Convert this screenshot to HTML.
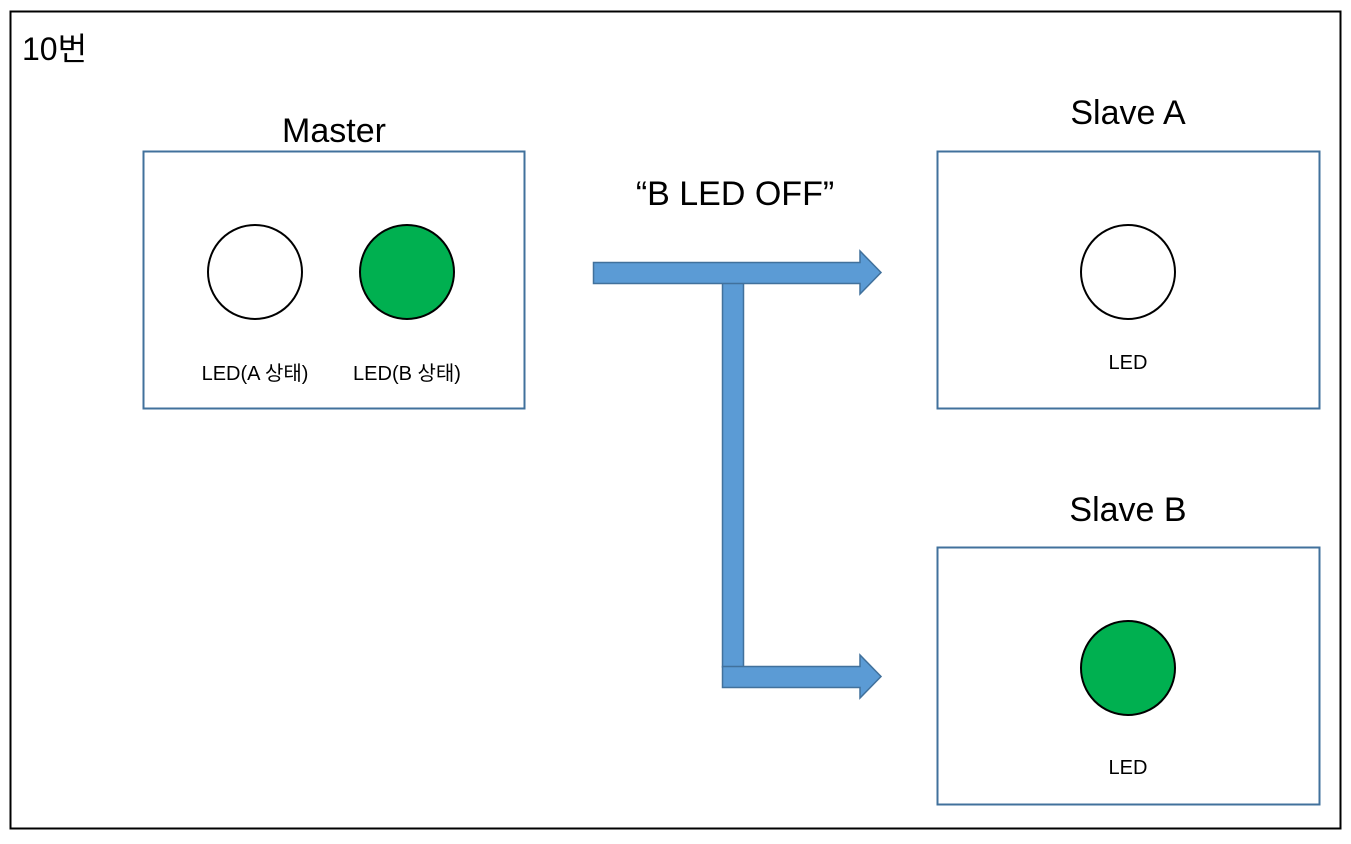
<!DOCTYPE html>
<html><head><meta charset="utf-8"><style>
body{margin:0;background:#fff;}
svg text{font-family:"Liberation Sans","Noto Sans CJK KR",sans-serif;fill:#000;}
</style></head><body>
<svg width="1351" height="839" viewBox="0 0 1351 839" xmlns="http://www.w3.org/2000/svg">
<rect x="10.5" y="11.5" width="1330" height="817" fill="#fff" stroke="#000" stroke-width="2"/>
<text x="22" y="60" font-size="32">10번</text>
<text x="334" y="142" font-size="34" text-anchor="middle">Master</text>
<text x="1128" y="124" font-size="34" text-anchor="middle">Slave A</text>
<text x="1128" y="521" font-size="34" text-anchor="middle">Slave B</text>
<text x="735" y="205" font-size="34" text-anchor="middle">“B LED OFF”</text>
<rect x="143.5" y="151.5" width="381" height="257" fill="#fff" stroke="#41719c" stroke-width="2"/>
<rect x="937.5" y="151.5" width="382" height="257" fill="#fff" stroke="#41719c" stroke-width="2"/>
<rect x="937.5" y="547.5" width="382" height="257" fill="#fff" stroke="#41719c" stroke-width="2"/>
<circle cx="255" cy="272" r="47" fill="#fff" stroke="#000" stroke-width="2"/>
<circle cx="407" cy="272" r="47" fill="#00b050" stroke="#000" stroke-width="2"/>
<circle cx="1128" cy="272" r="47" fill="#fff" stroke="#000" stroke-width="2"/>
<circle cx="1128" cy="668" r="47" fill="#00b050" stroke="#000" stroke-width="2"/>
<text x="255" y="380" font-size="20" text-anchor="middle">LED(A 상태)</text>
<text x="407" y="380" font-size="20" text-anchor="middle">LED(B 상태)</text>
<text x="1128" y="369" font-size="20" text-anchor="middle">LED</text>
<text x="1128" y="774" font-size="20" text-anchor="middle">LED</text>
<g fill="#5b9bd5" stroke="#41719c" stroke-width="1.5">
<rect x="722.5" y="283" width="21" height="384"/>
<polygon points="593.5,262.5 860,262.5 860,251 881,272.5 860,294 860,283.5 593.5,283.5"/>
<polygon points="722.5,666.5 860,666.5 860,655 881,676.5 860,698 860,687.5 722.5,687.5"/>
</g>
</svg>
</body></html>
